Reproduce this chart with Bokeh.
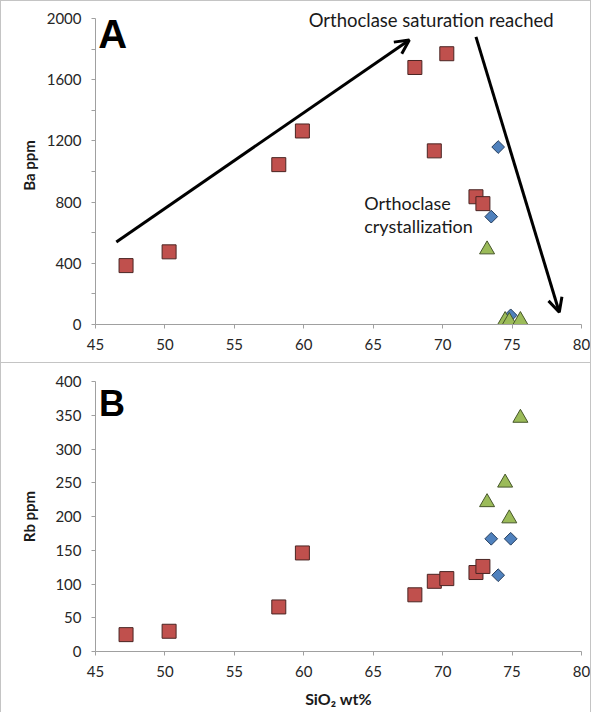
from bokeh.plotting import figure
from bokeh.layouts import column
from bokeh.models import FixedTicker, Arrow, OpenHead, Range1d, Label
from bokeh.embed import file_html
from bokeh.resources import INLINE
import numpy as np

# ---- data ----
red_sio2 = [47.2, 50.3, 58.2, 59.9, 68.0, 69.4, 70.3, 72.4, 72.9]
red_ba = [385, 475, 1045, 1265, 1680, 1135, 1770, 835, 790]
red_rb = [25, 30, 66, 146, 84, 104, 108, 117, 126]

blue_sio2 = [73.5, 74.0, 74.9]
blue_ba = [705, 1160, 60]
blue_rb = [167, 113, 167]

green_sio2 = [73.2, 74.5, 74.8, 75.6]
green_ba = [490, 28, 22, 28]
green_rb = [221, 250, 197, 346]

x_ticks = [45, 50, 55, 60, 65, 70, 75, 80]
ba_ticks = [0, 400, 800, 1200, 1600, 2000]
ba_minor = [200, 600, 1000, 1400, 1800]
rb_ticks = [0, 50, 100, 150, 200, 250, 300, 350, 400]

# arrows: (x_start, y_start, x_end, y_end)
arrow_up = (46.5, 540, 67.6, 1860)
arrow_down = (72.4, 1880, 78.4, 80)

FONT = "Lato"
TICK_COLOR = "#262626"
AXIS_COLOR = "#a0a0a0"
BORDER = "1px solid #c4c4c4"

RED, RED_LINE = "#c0504d", "#4a2523"
BLUE, BLUE_LINE = "#4f81bd", "#253d5c"
GREEN, GREEN_LINE = "#9bbb59", "#46562a"


def style_axes(p, ylabel, xlabel, yticks, yminor, ylab_standoff):
    p.xaxis.ticker = FixedTicker(ticks=x_ticks, minor_ticks=[])
    p.yaxis.ticker = FixedTicker(ticks=yticks, minor_ticks=yminor)
    p.yaxis.bounds = (yticks[0], yticks[-1])
    for ax in (p.xaxis[0], p.yaxis[0]):
        ax.axis_line_color = AXIS_COLOR
        ax.major_tick_line_color = AXIS_COLOR
        ax.minor_tick_line_color = AXIS_COLOR
        ax.major_tick_in = 0
        ax.major_tick_out = 4
        ax.minor_tick_in = 0
        ax.minor_tick_out = 4
        ax.major_label_text_font = FONT
        ax.major_label_text_font_size = "15px"
        ax.major_label_text_color = TICK_COLOR
        ax.axis_label_text_font = FONT
        ax.axis_label_text_font_style = "bold"
        ax.axis_label_text_font_size = "15px"
        ax.axis_label_text_color = "#1a1a1a"
    p.yaxis.major_label_standoff = 10
    p.xaxis.major_label_standoff = 10
    p.yaxis.axis_label = ylabel
    p.yaxis.axis_label_standoff = ylab_standoff
    if xlabel:
        p.xaxis.axis_label = xlabel
        p.xaxis.axis_label_standoff = 9
        p.xaxis.axis_label_text_font_size = "16px"
    p.grid.visible = False
    p.outline_line_color = None


def draw_points(p, yr, yb, yg):
    p.scatter(red_sio2, yr, marker="square", size=14, fill_color=RED,
              line_color=RED_LINE, line_width=1)
    p.scatter(blue_sio2, yb, marker="square", size=9, angle=np.pi / 4,
              fill_color=BLUE, line_color=BLUE_LINE, line_width=1)
    p.scatter(green_sio2, yg, marker="triangle", size=15, fill_color=GREEN,
              line_color=GREEN_LINE, line_width=1)


def add_label(p, x, y, text, size, bold=False, font=FONT, color="#1a1a1a"):
    p.add_layout(Label(x=x, y=y, text=text, text_font=font,
                       text_font_size=size,
                       text_font_style="bold" if bold else "normal",
                       text_color=color, text_align="left",
                       text_baseline="alphabetic"))


# ---- panel A ----
# frame extends 12px above the 2000 line (axis bounded to 0..2000) so that
# the top annotation is not clipped
A_TOP_PAD_PX = 12
A_FRAME_PX = 305
a_ymax = 2000 * (A_FRAME_PX + A_TOP_PAD_PX) / A_FRAME_PX
pa = figure(width=591, height=363, output_backend="svg", toolbar_location=None,
            x_range=Range1d(45, 80), y_range=Range1d(0, a_ymax),
            min_border_left=94, min_border_right=11,
            min_border_top=17 - A_TOP_PAD_PX, min_border_bottom=40,
            styles={"border": BORDER, "box-sizing": "border-box"})
style_axes(pa, "Ba ppm", None, ba_ticks, ba_minor, 6)
draw_points(pa, red_ba, blue_ba, green_ba)

for (x0, y0, x1, y1) in (arrow_up, arrow_down):
    pa.add_layout(Arrow(end=OpenHead(size=14, line_width=3, line_color="black"),
                        x_start=x0, y_start=y0, x_end=x1, y_end=y1,
                        line_width=3, line_color="black"))

add_label(pa, 45.2, 1900, "A", "40px", bold=True, font="Liberation Sans",
          color="black")
add_label(pa, 60.35, 1988, "Orthoclase saturation reached", "18.5px")
add_label(pa, 64.35, 797, "Orthoclase", "18px")
add_label(pa, 64.35, 647, "crystallization", "18px")

# ---- panel B ----
pb = figure(width=591, height=349, output_backend="svg", toolbar_location=None,
            x_range=Range1d(45, 80), y_range=Range1d(0, 400),
            min_border_left=84, min_border_right=11, min_border_top=18,
            min_border_bottom=61,
            styles={"border-left": BORDER, "border-right": BORDER,
                    "box-sizing": "border-box"})
style_axes(pb, "Rb ppm", "SiO₂ wt%", rb_ticks, [], 14)
draw_points(pb, red_rb, blue_rb, green_rb)
add_label(pb, 45.25, 368, "B", "36px", bold=True, font="Liberation Sans",
          color="black")

layout = column(pa, pb, spacing=0)
open("out.html", "w").write(file_html(layout, INLINE))
